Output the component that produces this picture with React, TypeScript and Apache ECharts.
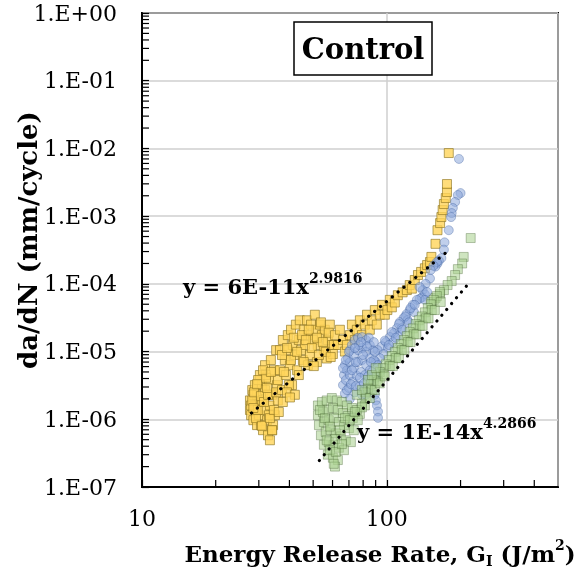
import React, { useEffect, useRef } from "react";
import * as echarts from "echarts";

const FONT = "'DejaVu Serif', serif";

// Axis ticks
const xTickValues = [10, 100];
const xTickLabels = ["10", "100"];
const yTickValues = [1e-7, 1e-6, 1e-5, 1e-4, 1e-3, 1e-2, 1e-1, 1];
const yTickLabels = ["1.E-07", "1.E-06", "1.E-05", "1.E-04", "1.E-03", "1.E-02", "1.E-01", "1.E+00"];
const xMinorTicks = [20, 30, 40, 50, 60, 70, 80, 90, 200, 300, 400];
const minorMultipliers = [2, 3, 4, 5, 6, 7, 8, 9];
const yDecades = [1e-7, 1e-6, 1e-5, 1e-4, 1e-3, 1e-2, 1e-1];

// Series 1 (yellow squares): [G_I (J/m2), da/dN (mm/cycle)]
const yellowData: number[][] = [
  [27.6, 1.9e-6], [27.6, 1.37e-6], [27.9, 1.15e-6], [28.2, 2.7e-6], [28.5, 9.7e-7], [28.9, 1.6e-6],
  [28.9, 3.2e-6], [29.5, 2.3e-6], [29.5, 8.2e-7], [30.0, 1.15e-6], [30.3, 4.5e-6], [30.3, 1.9e-6],
  [30.9, 3.2e-6], [31.2, 6.9e-7], [31.5, 1.37e-6], [31.8, 6.3e-6], [31.8, 2.7e-6], [32.4, 9.7e-7],
  [32.7, 5.8e-7], [33.0, 3.8e-6], [33.3, 1.6e-6], [33.3, 4.9e-7], [33.6, 7.5e-6], [34.0, 2.3e-6],
  [34.3, 8.2e-7], [34.6, 5.3e-6], [34.9, 1.15e-6], [35.3, 1.05e-5], [35.6, 3.2e-6], [35.9, 1.9e-6],
  [29.2, 1.37e-6], [31.0, 1.9e-6], [32.0, 4.5e-6], [33.0, 1.15e-6], [28.5, 2.3e-6], [30.6, 8.2e-7],
  [34.0, 6.9e-7], [29.8, 3.8e-6], [32.7, 2.3e-6], [27.9, 1.6e-6],
  [28.2, 1.9e-6], [28.7, 2.5e-6], [29.2, 1.04e-6], [29.7, 1.37e-6], [30.6, 2.2e-6], [30.9, 8.0e-7],
  [31.5, 1.8e-6], [32.1, 4.1e-6], [32.7, 2.3e-6], [33.3, 1.04e-6], [34.0, 6.9e-7], [34.6, 1.37e-6],
  [35.3, 2.5e-6], [35.9, 3.8e-6], [36.2, 1.28e-6], [28.5, 1.47e-6], [29.5, 3.3e-6], [31.2, 5.3e-6],
  [32.4, 2.9e-6], [33.6, 5.0e-6],
  [36.6, 1.05e-5], [36.6, 5.3e-6], [37.3, 2.7e-6], [37.6, 1.48e-5], [38.3, 7.5e-6], [38.7, 4.5e-6],
  [39.4, 1.75e-5], [39.4, 1.05e-5], [40.2, 6.3e-6], [40.6, 2.1e-5], [41.0, 3.2e-6], [41.3, 1.25e-5],
  [42.1, 8.9e-6], [42.5, 2.5e-5], [43.0, 5.3e-6], [43.7, 1.48e-5], [44.1, 2.9e-5], [44.6, 1.05e-5],
  [45.4, 7.5e-6], [45.8, 2.1e-5], [46.3, 1.25e-5], [47.2, 2.9e-5], [47.6, 1.75e-5], [48.5, 8.9e-6],
  [49.0, 2.5e-5], [49.9, 1.48e-5], [50.8, 3.5e-5], [51.3, 2.1e-5], [52.2, 1.25e-5], [53.3, 2.5e-5],
  [54.3, 1.75e-5], [55.3, 1.05e-5], [55.8, 2.1e-5], [57.4, 1.48e-5], [58.5, 2.5e-5], [59.7, 1.25e-5],
  [47.6, 6.3e-6], [51.8, 7.0e-6], [56.8, 7.9e-6], [60.2, 9.2e-6],
  [37.3, 8.9e-6], [38.0, 5.0e-6], [39.1, 1.13e-5], [39.8, 3.2e-6], [40.6, 7.5e-6], [41.7, 1.6e-5],
  [43.0, 9.9e-6], [43.7, 4.5e-6], [45.0, 1.75e-5], [45.8, 7.0e-6], [46.7, 1.48e-5], [48.0, 2.1e-5],
  [49.4, 1.13e-5], [50.3, 6.1e-6], [51.8, 1.6e-5], [52.8, 8.9e-6], [53.8, 2.7e-5], [54.8, 1.38e-5],
  [56.3, 9.9e-6], [57.9, 1.9e-5], [59.0, 8.3e-6], [60.7, 1.25e-5], [39.1, 2.5e-6], [42.1, 2.3e-6],
  [37.6, 1.8e-6], [40.2, 2.1e-6],
  [61.4, 1.75e-5], [63.1, 1.25e-5], [64.3, 2.1e-5], [66.2, 1.48e-5], [67.4, 1.0e-5], [68.7, 1.25e-5],
  [70.6, 1.75e-5], [72.0, 2.5e-5], [74.0, 1.48e-5], [75.4, 2.1e-5], [77.6, 2.9e-5], [79.1, 1.75e-5],
  [81.3, 2.5e-5], [83.0, 3.5e-5], [85.2, 2.1e-5], [86.9, 2.9e-5], [89.3, 4.1e-5], [91.0, 2.5e-5],
  [93.6, 3.5e-5], [95.5, 4.9e-5], [98.1, 3.5e-5], [100.5, 4.1e-5], [102.8, 5.8e-5], [104.8, 4.5e-5],
  [107.8, 5.3e-5], [110.9, 6.8e-5], [116, 7.5e-5], [120.7, 8.1e-5], [124, 9.6e-5], [126.5, 8.5e-5],
  [130, 1.14e-4], [134, 1.35e-4], [138, 1.5e-4], [143, 1.7e-4], [146, 1.9e-4], [150, 2.1e-4],
  [152, 2.5e-4], [158, 3.9e-4], [161, 6.2e-4], [165, 7.9e-4], [167, 9.7e-4], [169, 1.23e-3],
  [171, 1.51e-3], [174, 1.85e-3], [176, 2.27e-3], [176, 2.98e-3], [179, 8.55e-3],
];

// Series 2 (blue circles)
const blueData: number[][] = [
  [197, 7.0e-3], [200, 2.19e-3], [195, 2.05e-3], [190, 1.62e-3], [186, 1.32e-3], [184, 1.11e-3],
  [183, 9.7e-4], [179, 6.2e-4], [172, 4.1e-4], [171, 3.2e-4], [167, 2.4e-4], [161, 2.0e-4],
  [158, 1.8e-4], [163, 2.2e-4], [160, 2.1e-4], [155, 1.85e-4], [151, 1.6e-4], [150, 1.2e-4],
  [144, 1.0e-4], [140, 8.1e-5], [143, 7.0e-5], [139, 6.3e-5], [146, 7.6e-5], [136, 9.0e-5],
  [136, 6.0e-5], [143, 5.8e-5],
  [132.6, 5.8e-5], [127.6, 4.9e-5], [124, 4.1e-5], [120.3, 3.58e-5], [117, 3.12e-5], [113, 2.73e-5],
  [110, 2.22e-5], [107, 1.88e-5], [102.8, 1.64e-5], [99, 1.38e-5], [95.5, 1.2e-5], [91.7, 1.05e-5],
  [129, 3.83e-5], [121.5, 2.92e-5], [115, 2.22e-5], [111, 1.69e-5], [106, 1.38e-5], [101, 1.13e-5],
  [97, 9.2e-6], [93.6, 8.0e-6], [90, 7.0e-6],
  [98.1, 1.45e-5], [104.8, 1.94e-5], [112, 2.55e-5], [119, 3.3e-5], [125, 4.4e-5], [101.9, 1.25e-5],
  [108.8, 1.6e-5], [116, 2.1e-5], [123, 2.7e-5], [130, 4.9e-5],
  [67.4, 6.3e-6], [69.3, 8.0e-6], [70.6, 1.05e-5], [72.0, 1.25e-5], [74.0, 1.48e-5], [76.2, 1.6e-5],
  [79.2, 1.64e-5], [82.3, 1.48e-5], [85.2, 1.25e-5], [87.8, 1.05e-5], [66.8, 4.5e-6], [68.7, 5.3e-6],
  [70.6, 7.0e-6], [73.3, 8.9e-6], [76.2, 1.05e-5], [79.2, 1.13e-5], [82.3, 9.9e-6], [85.2, 8.0e-6],
  [88.5, 7.5e-6], [66.2, 3.2e-6], [68.0, 3.8e-6], [70.6, 4.5e-6], [73.3, 5.7e-6], [76.2, 7.0e-6],
  [79.2, 7.5e-6], [82.3, 6.3e-6], [85.2, 5.3e-6], [67.4, 2.4e-6], [70.0, 2.9e-6], [72.6, 3.6e-6],
  [75.4, 4.4e-6], [78.4, 5.0e-6], [81.3, 4.5e-6], [84.4, 3.8e-6], [70.6, 2.0e-6], [74.0, 2.5e-6],
  [77.6, 3.1e-6], [80.5, 2.7e-6], [83.6, 2.5e-6], [87.0, 3.2e-6], [89.3, 2.3e-6], [90.2, 1.9e-6],
  [91.1, 1.6e-6], [92.0, 1.3e-6], [92.0, 1.05e-6],
  [68.0, 7.5e-6], [70.0, 9.9e-6], [72.0, 5.3e-6], [74.7, 7.0e-6], [76.9, 1.25e-5], [79.9, 8.9e-6],
  [82.9, 1.2e-5], [86.1, 7.0e-6], [89.3, 9.9e-6], [68.7, 2.7e-6], [71.3, 3.3e-6], [74.7, 3.1e-6],
  [77.6, 4.1e-6], [80.6, 3.4e-6], [83.7, 4.3e-6], [86.9, 5.0e-6], [90.2, 4.1e-6], [66.2, 5.7e-6],
  [74.0, 1.13e-5], [78.4, 1.38e-5], [84.4, 1.6e-5], [88.5, 1.38e-5], [91.9, 6.3e-6], [93.6, 5.0e-6],
  [82.1, 2.3e-6], [79.1, 2.3e-6],
];

// Series 3 (green squares)
const greenData: number[][] = [
  [220, 4.75e-4], [206, 2.5e-4], [203, 2.0e-4], [195, 1.65e-4], [190, 1.35e-4], [184, 1.1e-4],
  [177, 9.6e-5], [171, 8.1e-5], [165, 7.1e-5], [158, 6.2e-5], [152, 5.4e-5],
  [164.6, 7.6e-5], [160, 6.6e-5], [155.5, 5.8e-5], [151.2, 5.0e-5], [147, 4.4e-5], [143, 3.8e-5],
  [139, 3.3e-5], [135, 2.9e-5], [131.3, 2.55e-5], [127.7, 2.2e-5], [124, 1.94e-5], [120.7, 1.69e-5],
  [117.3, 1.48e-5], [114, 1.29e-5], [110.9, 1.13e-5], [107.8, 9.9e-6], [104.8, 8.6e-6], [101.9, 7.5e-6],
  [99.1, 6.5e-6], [96.3, 5.7e-6], [93.6, 5.0e-6], [91.0, 4.3e-6], [88.5, 3.8e-6], [86.1, 3.3e-6],
  [83.7, 2.9e-6], [81.3, 2.5e-6],
  [152.6, 4.1e-5], [144.3, 3.1e-5], [136.3, 2.4e-5], [128.9, 1.8e-5], [121.8, 1.38e-5], [115.1, 1.05e-5],
  [108.8, 8.0e-6], [102.8, 6.1e-6], [97.2, 4.6e-6], [91.9, 3.6e-6], [86.9, 2.7e-6], [82.1, 2.06e-6],
  [79.1, 1.7e-6],
  [75.4, 2.3e-6], [79.1, 2.7e-6], [83.7, 3.8e-6], [86.9, 4.5e-6], [90.2, 5.7e-6],
  [77.6, 1.2e-6], [81.3, 1.6e-6], [85.2, 2.06e-6], [89.3, 2.7e-6], [93.6, 3.4e-6], [98.1, 4.3e-6],
  [105.8, 6.1e-6], [112, 8.0e-6], [118, 1.05e-5], [125, 1.38e-5], [132, 1.8e-5], [140, 2.4e-5],
  [148, 3.1e-5], [157, 4.1e-5], [166, 5.4e-5],
  [52.3, 1.6e-6], [54.3, 1.8e-6], [56.8, 1.9e-6], [59.6, 2.06e-6], [62.5, 1.9e-6], [65.5, 1.8e-6],
  [68.7, 1.6e-6], [72.0, 1.47e-6], [75.4, 1.37e-6], [79.1, 1.5e-6],
  [52.3, 1.15e-6], [54.8, 1.28e-6], [57.4, 1.37e-6], [60.2, 1.47e-6], [63.1, 1.37e-6], [66.2, 1.24e-6],
  [69.3, 1.12e-6], [72.6, 1.04e-6], [76.1, 9.7e-7],
  [52.8, 8.2e-7], [55.3, 9.1e-7], [57.9, 9.7e-7], [60.7, 1.04e-6], [63.7, 9.1e-7], [66.8, 8.2e-7],
  [70.0, 7.4e-7], [73.3, 6.9e-7],
  [53.8, 5.8e-7], [56.3, 6.5e-7], [59.0, 6.9e-7], [61.9, 6.2e-7], [64.9, 5.6e-7], [68.0, 4.9e-7],
  [71.3, 4.6e-7],
  [55.3, 4.2e-7], [57.9, 4.6e-7], [60.7, 4.2e-7], [63.7, 3.8e-7], [66.8, 3.5e-7],
  [57.4, 3.0e-7], [60.2, 2.7e-7], [63.1, 2.5e-7], [61.4, 2.0e-7], [60.7, 2.2e-7],
  [53.3, 1.37e-6], [55.8, 1.04e-6], [58.5, 7.8e-7], [61.4, 5.1e-7], [64.3, 6.9e-7], [67.4, 1.04e-6],
  [70.6, 9.7e-7], [74.0, 1.28e-6], [58.5, 3.5e-7], [61.9, 3.3e-7], [56.8, 4.9e-7], [65.5, 4.3e-7],
];

// Power-law trend lines (end points on y = 6E-11x^2.9816 and y = 1E-14x^4.2866)
const trendYellow: number[][] = [[28, 1.24e-6], [177, 3.03e-4]];
const trendGreen: number[][] = [[53, 2.46e-7], [216, 1.02e-4]];

const eqYellow = { main: "y = 6E-11x", exp: "2.9816" };
const eqGreen = { main: "y = 1E-14x", exp: "4.2866" };

function matchLabel(values: number[], labels: string[], v: number) {
  const i = values.findIndex((t) => Math.abs(Math.log10(t) - Math.log10(v)) < 1e-6);
  return i >= 0 ? labels[i] : "";
}

export default function App() {
  const ref = useRef<HTMLDivElement>(null);

  useEffect(() => {
    if (!ref.current) return;
    const chart = echarts.init(ref.current, undefined, { renderer: "svg" });

    const yMinor: number[] = [];
    yDecades.forEach((d) => minorMultipliers.forEach((m) => yMinor.push(d * m)));

    const eqRich = {
      m: { fontSize: 21, fontWeight: "bold", fontFamily: FONT, lineHeight: 26, verticalAlign: "bottom", fill: "#000" },
      s: { fontSize: 14, fontWeight: "bold", fontFamily: FONT, lineHeight: 16, verticalAlign: "top", fill: "#000" },
    };

    const option: any = {
      animation: false,
      grid: {
        left: 142, top: 13, width: 416, height: 474,
        show: true, borderColor: "#000", borderWidth: 2, backgroundColor: "transparent",
      },
      xAxis: {
        type: "log", logBase: 10, min: 10, max: 500,
        axisLine: { show: true, lineStyle: { color: "#000", width: 2 } },
        axisTick: { show: true, inside: true, length: 7, lineStyle: { color: "#000", width: 1.2 } },
        axisLabel: {
          formatter: (v: number) => matchLabel(xTickValues, xTickLabels, v),
          fontFamily: FONT, fontSize: 22, color: "#000", margin: 20, showMaxLabel: false,
        },
        splitLine: { show: true, lineStyle: { color: "#cfcfcf", width: 1.5 } },
      },
      yAxis: {
        type: "log", logBase: 10, min: 1e-7, max: 1,
        axisLine: { show: true, lineStyle: { color: "#000", width: 2 } },
        axisTick: { show: true, inside: true, length: 7, lineStyle: { color: "#000", width: 1.2 } },
        axisLabel: {
          formatter: (v: number) => matchLabel(yTickValues, yTickLabels, v),
          fontFamily: FONT, fontSize: 22, color: "#000", margin: 25,
        },
        splitLine: { show: true, lineStyle: { color: "#cfcfcf", width: 1.5 } },
      },
      series: [
        {
          type: "scatter", name: "yellow", data: yellowData, symbol: "rect", symbolSize: 9, z: 2,
          itemStyle: { color: "#FFD55A", borderColor: "#8C7421", borderWidth: 0.8 },
        },
        {
          type: "scatter", name: "blue", data: blueData, symbol: "circle", symbolSize: 9, z: 3,
          itemStyle: { color: "rgba(143,170,220,0.7)", borderColor: "rgba(47,85,151,0.6)", borderWidth: 0.7 },
        },
        {
          type: "scatter", name: "green", data: greenData, symbol: "rect", symbolSize: 9, z: 4,
          itemStyle: { color: "rgba(169,209,142,0.7)", borderColor: "rgba(56,87,35,0.6)", borderWidth: 0.7 },
        },
        {
          type: "line", data: trendYellow, symbol: "none", z: 5, silent: true,
          lineStyle: { color: "#000", width: 3.2, type: [0.1, 7.5], cap: "round" },
        },
        {
          type: "line", data: trendGreen, symbol: "none", z: 5, silent: true,
          lineStyle: { color: "#000", width: 3.2, type: [0.1, 7.5], cap: "round" },
        },
        {
          type: "custom", silent: true, z: 6, clip: false,
          data: xMinorTicks.map((v) => [v, 1e-7]),
          renderItem: (_p: any, api: any) => {
            const p = api.coord([api.value(0), api.value(1)]);
            return { type: "line", shape: { x1: p[0], y1: p[1], x2: p[0], y2: p[1] - 7 }, style: { stroke: "#000", lineWidth: 1.2 } };
          },
        },
        {
          type: "custom", silent: true, z: 6, clip: false,
          data: yMinor.map((v) => [10, v]),
          renderItem: (_p: any, api: any) => {
            const p = api.coord([api.value(0), api.value(1)]);
            return { type: "line", shape: { x1: p[0], y1: p[1], x2: p[0] + 7, y2: p[1] }, style: { stroke: "#000", lineWidth: 1.2 } };
          },
        },
      ],
      graphic: [
        {
          type: "rect", z: 10,
          shape: { x: 294, y: 22, width: 138, height: 53 },
          style: { fill: "#fff", stroke: "#000", lineWidth: 1.5 },
        },
        {
          type: "text", z: 11, x: 363, y: 49,
          style: {
            text: "Control", font: `bold 29px ${FONT}`, fill: "#000",
            textAlign: "center", textVerticalAlign: "middle", align: "center", verticalAlign: "middle",
          },
        },
        {
          type: "text", z: 11, x: 183, y: 271,
          style: {
            text: `{m|${eqYellow.main}}{s|${eqYellow.exp}}`, rich: eqRich,
            textAlign: "left", textVerticalAlign: "top", align: "left", verticalAlign: "top",
          },
        },
        {
          type: "text", z: 11, x: 357, y: 416,
          style: {
            text: `{m|${eqGreen.main}}{s|${eqGreen.exp}}`, rich: eqRich,
            textAlign: "left", textVerticalAlign: "top", align: "left", verticalAlign: "top",
          },
        },
        {
          type: "text", z: 11, x: 380, y: 538,
          style: {
            text: "{m|Energy Release Rate, G}{sub|I}{m| (J/m}{sup|2}{m|)}",
            rich: {
              m: { fontSize: 23, fontWeight: "bold", fontFamily: FONT, lineHeight: 30, verticalAlign: "middle", fill: "#000" },
              sub: { fontSize: 14, fontWeight: "bold", fontFamily: FONT, lineHeight: 18, verticalAlign: "bottom", fill: "#000" },
              sup: { fontSize: 14, fontWeight: "bold", fontFamily: FONT, lineHeight: 18, verticalAlign: "top", fill: "#000" },
            },
            textAlign: "center", textVerticalAlign: "top", align: "center", verticalAlign: "top",
          },
        },
        {
          type: "text", z: 11, x: 28, y: 240, rotation: Math.PI / 2,
          style: {
            text: "da/dN (mm/cycle)", font: `bold 26px ${FONT}`, fill: "#000",
            textAlign: "center", textVerticalAlign: "middle", align: "center", verticalAlign: "middle",
          },
        },
      ],
    };

    chart.setOption(option);
    return () => chart.dispose();
  }, []);

  return <div ref={ref} style={{ position: "fixed", left: 0, top: 0, width: 588, height: 579 }} />;
}
